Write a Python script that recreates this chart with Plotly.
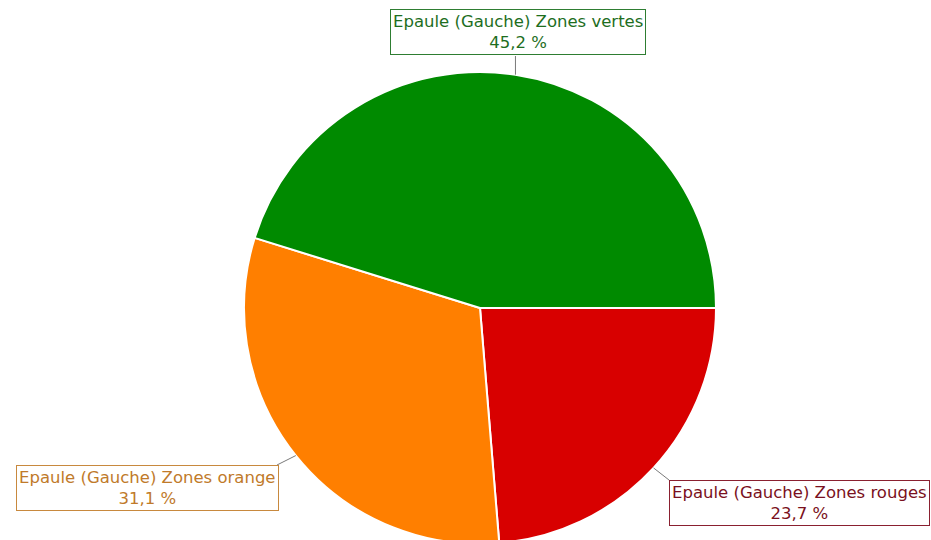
import math
import plotly.graph_objects as go

# Shoulder (left) time split by zone
labels = ["Epaule (Gauche) Zones vertes", "Epaule (Gauche) Zones orange", "Epaule (Gauche) Zones rouges"]
values = [45.2, 31.1, 23.7]
slice_colors = ["#008a00", "#ff7f00", "#d80000"]
text_colors = ["#1e6e1e", "#c07a2a", "#7a1020"]
border_colors = ["#2e7d32", "#c8893e", "#8a2030"]

W, H = 931, 560
CX, CY, R = 480, 308, 236  # pie centre and radius in pixels

# slices run counterclockwise from 3 o'clock: green, orange, red
# (drawn clockwise from 3 o'clock in reverse order)
fig = go.Figure(go.Pie(
    labels=labels[::-1],
    values=values[::-1],
    sort=False,
    direction="clockwise",
    rotation=90,
    marker=dict(colors=slice_colors[::-1], line=dict(color="white", width=2)),
    textinfo="none",
    hoverinfo="label+percent",
    showlegend=False,
    domain=dict(x=[(CX - R) / W, (CX + R) / W], y=[1 - (CY + R) / H, 1 - (CY - R) / H]),
))

# label boxes: anchor in pixels, and where the leader line meets the box
boxes = [
    dict(x=518, y=9, xanchor="center", yanchor="top", lx=None, ly=56),
    dict(x=16, y=465, xanchor="left", yanchor="top", lx=277, ly=465),
    dict(x=669, y=480, xanchor="left", yanchor="top", lx=669, ly=480),
]

total = sum(values)
cum = 0.0
for lab, v, tc, bc, b in zip(labels, values, text_colors, border_colors, boxes):
    mid = (cum + v / 2) / total * 2 * math.pi
    cum += v
    ex = CX + R * math.cos(mid)
    ey = CY - R * math.sin(mid)
    lx = ex if b["lx"] is None else b["lx"]
    fig.add_shape(type="line", xref="paper", yref="paper",
                  x0=ex / W, y0=1 - ey / H, x1=lx / W, y1=1 - b["ly"] / H,
                  line=dict(color="#7a7a7a", width=1))
    pct = f"{v:.1f}".replace(".", ",")
    fig.add_annotation(
        xref="paper", yref="paper", x=b["x"] / W, y=1 - b["y"] / H,
        xanchor=b["xanchor"], yanchor=b["yanchor"],
        text=f"{lab}<br>{pct} %", showarrow=False, align="center",
        font=dict(family="DejaVu Sans", size=16.5, color=tc),
        bgcolor="white", bordercolor=bc, borderwidth=1, borderpad=2,
    )

fig.update_layout(
    width=W, height=H,
    margin=dict(l=0, r=0, t=0, b=0),
    paper_bgcolor="white", plot_bgcolor="white",
)

fig.write_html(
    "out.html",
    post_script="document.documentElement.style.overflow='hidden';"
                "document.body.style.overflow='hidden';document.body.style.margin='0';",
)
